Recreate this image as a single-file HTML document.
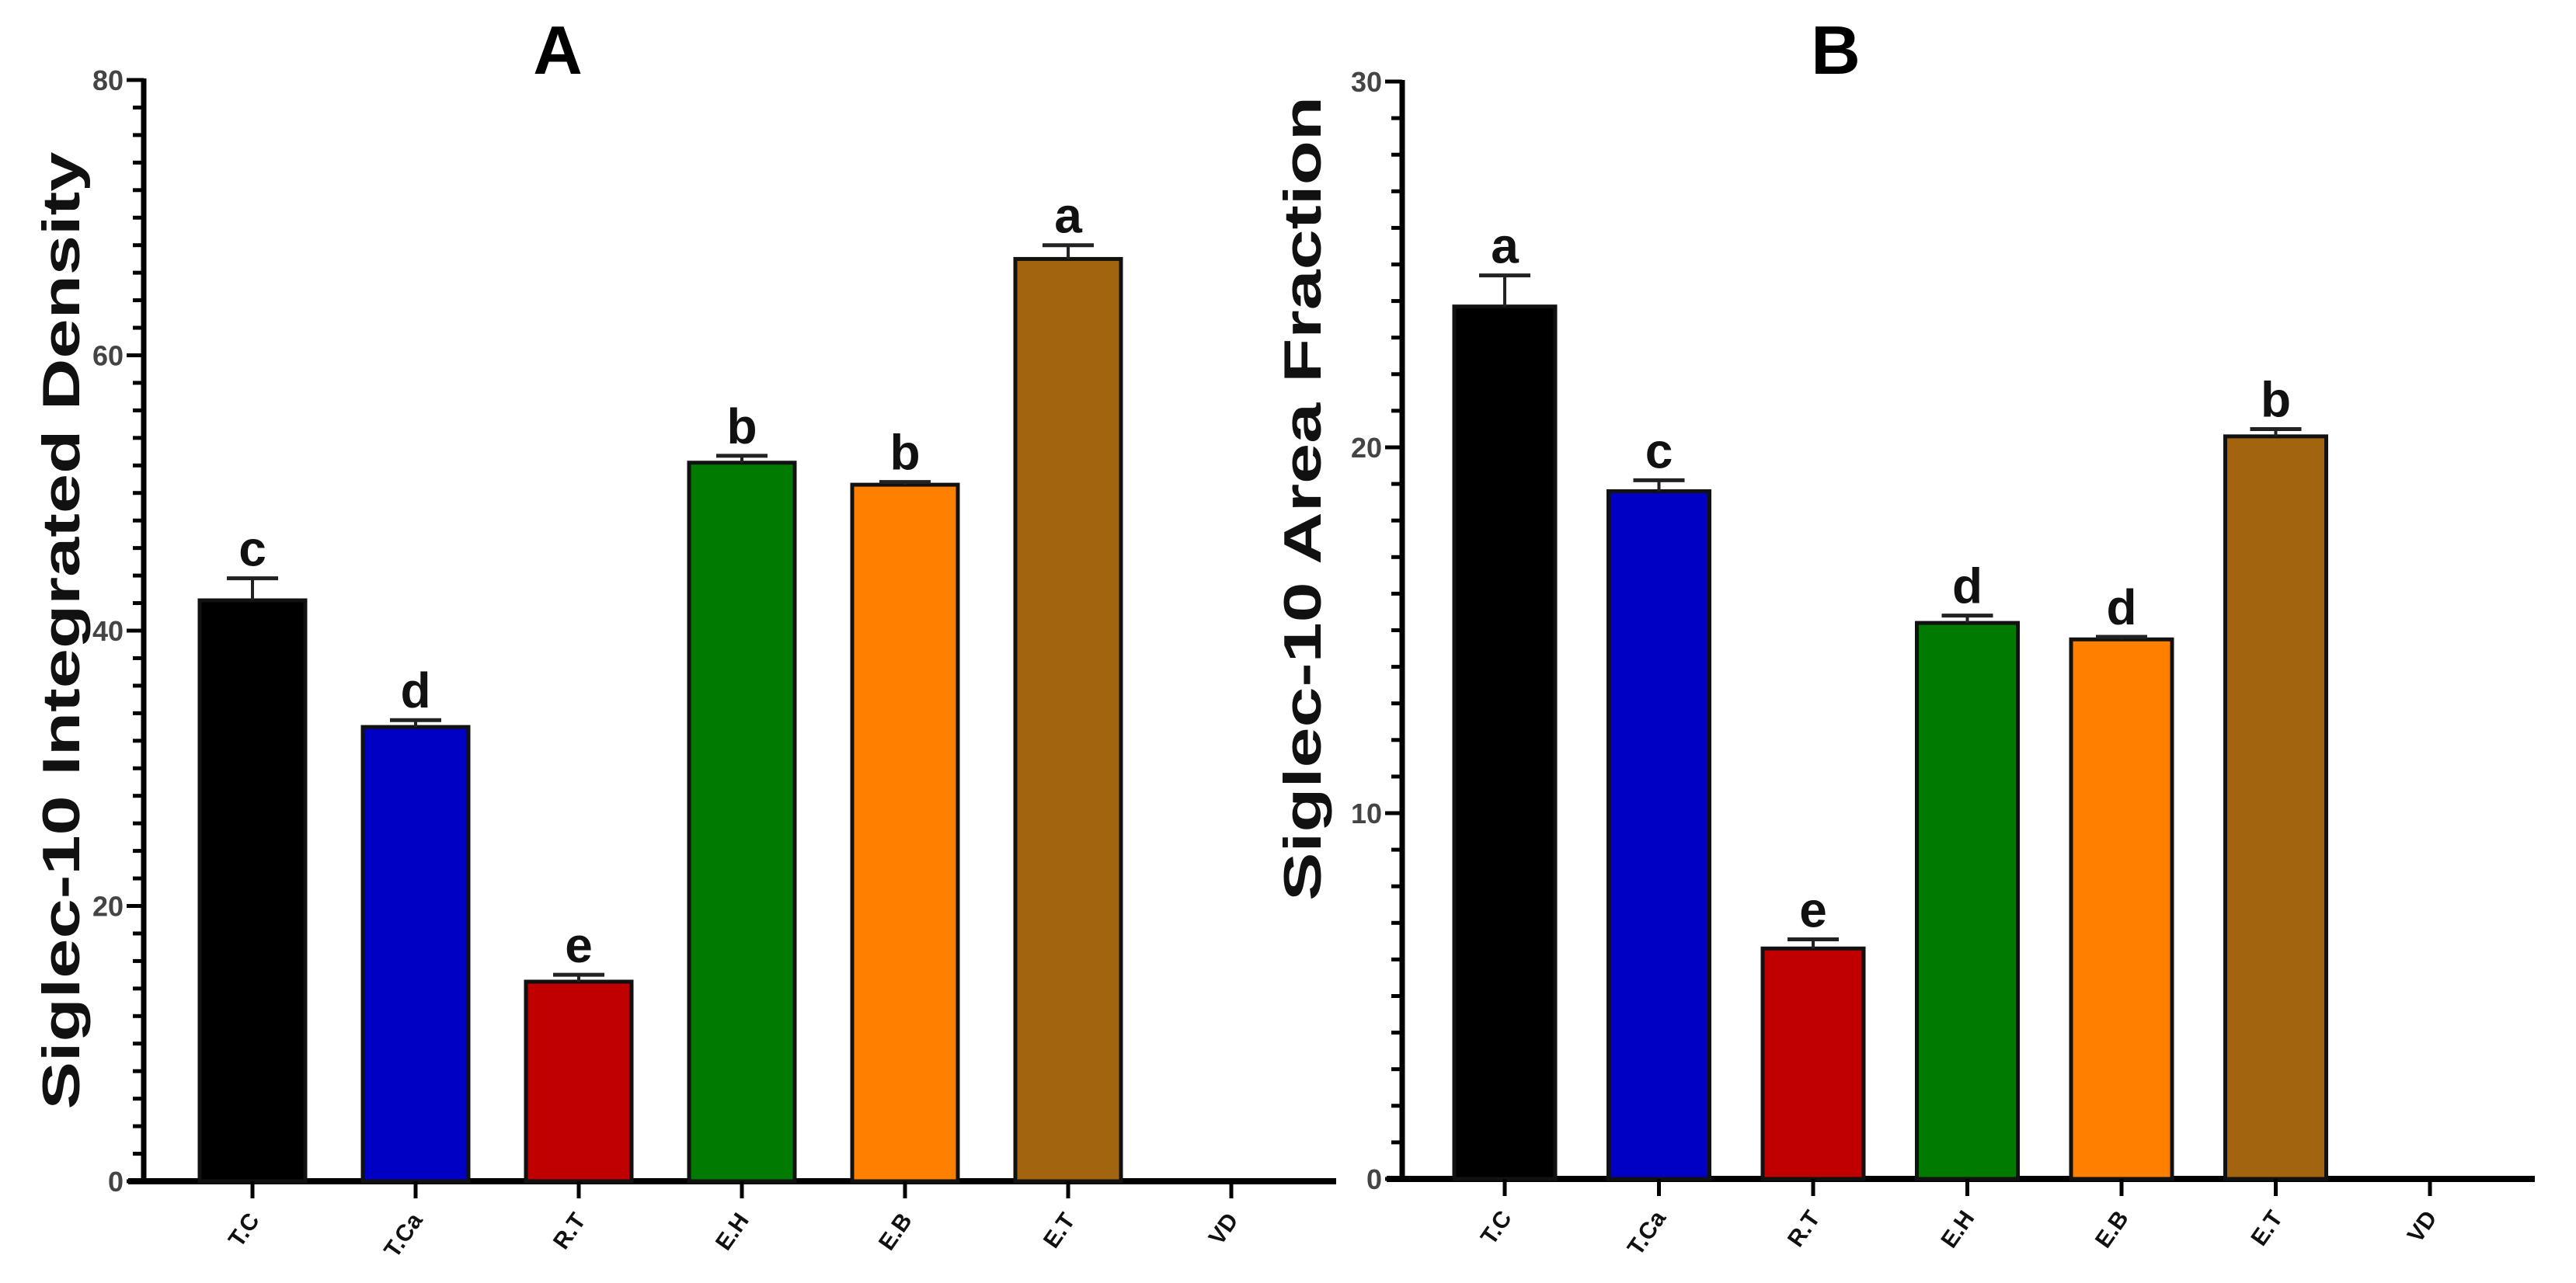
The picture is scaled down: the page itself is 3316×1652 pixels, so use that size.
<!DOCTYPE html>
<html><head><meta charset="utf-8"><style>
html,body{margin:0;padding:0;background:#fff;}
svg{display:block;}
text{font-family:"Liberation Sans",Arial,sans-serif;}
</style></head><body>
<svg id="chart" width="3316" height="1652" viewBox="0 0 3316 1652" xmlns="http://www.w3.org/2000/svg"></svg>
<script>
const categories = ["T.C","T.Ca","R.T","E.H","E.B","E.T","VD"];
const colors = ["#000000","#0000c4","#c00000","#007a00","#ff8000","#a2640f","#ffffff"];
const valuesA = [42.2, 33.0, 14.5, 52.2, 50.6, 67.0, 0];
const errorsA = [1.6, 0.5, 0.5, 0.5, 0.2, 1.0, 0];
const lettersA = ["c","d","e","b","b","a",""];
const ticksA = [0, 20, 40, 60, 80];
const valuesB = [23.85, 18.8, 6.3, 15.2, 14.75, 20.3, 0];
const errorsB = [0.85, 0.3, 0.25, 0.2, 0.07, 0.2, 0];
const lettersB = ["a","c","e","d","d","b",""];
const ticksB = [0, 10, 20, 30];

const NS = "http://www.w3.org/2000/svg";
const svg = document.getElementById('chart');
function mk(tag, attrs, parent, txt){
  const e = document.createElementNS(NS, tag);
  for (const k in attrs) e.setAttribute(k, attrs[k]);
  if (txt !== undefined) e.textContent = txt;
  (parent || svg).appendChild(e);
  return e;
}

function drawPanel(p){
  const g = mk('g', {});
  
  
  const y = v => p.y0 - (v / p.max) * (p.y0 - p.yTop);
  const x = i => p.firstX + i * p.step;
  const ax = mk('line', {x1:p.axisX, y1:p.yTop-2, x2:p.axisX, y2:p.y0+3, stroke:'#000','stroke-width':7}, g);
  
  
  for (let v = 0; v <= p.max + 1e-9; v += p.minor){
    const t = mk('line', {x1:p.axisX-14, y1:y(v), x2:p.axisX, y2:y(v), stroke:'#000','stroke-width':5}, g);
    
    
  }
  p.ticks.forEach(v => {
    const t = mk('line', {x1:p.axisX-22, y1:y(v), x2:p.axisX, y2:y(v), stroke:'#000','stroke-width':5}, g);
    
    
    const l = mk('text', {x:p.axisX-26, y:y(v)+13, 'text-anchor':'end','font-size':36,fill:'#444','font-weight':'bold'}, g, String(v));
    
    
  });
  const xa = mk('line', {x1:p.axisX-20, y1:p.y0, x2:p.xEnd, y2:p.y0, stroke:'#000','stroke-width':8}, g);
  
  
  categories.forEach((c, i) => {
    const cx = x(i);
    if (p.values[i] > 0){
      const top = y(p.values[i]);
      const r = mk('rect', {x:cx-p.bw/2, y:top, width:p.bw, height:p.y0-top, fill:colors[i], stroke:'#111','stroke-width':5}, g);
      
      
      const et = y(p.values[i] + p.errors[i]);
      const ev = mk('line', {x1:cx, y1:top, x2:cx, y2:et, stroke:'#222','stroke-width':4}, g);
      
      
      const ec = mk('line', {x1:cx-33, y1:et, x2:cx+33, y2:et, stroke:'#222','stroke-width':5}, g);
      
      
      const lt = mk('text', {x:cx, y:et-16, 'text-anchor':'middle','font-size':64,'font-weight':'bold',fill:'#111'}, g, p.letters[i]);
      
      
    }
    const tk = mk('line', {x1:cx, y1:p.y0, x2:cx, y2:p.y0+22, stroke:'#000','stroke-width':5}, g);
    
    
    const xl = mk('text', {x:cx+10, y:p.y0+50, 'text-anchor':'end','font-size':30,'font-weight':'bold',fill:'#111',transform:'rotate(-55 '+(cx+10)+' '+(p.y0+50)+')'}, g, c);
    
    
  });
  const yt = mk('text', {x:p.titleX, y:p.titleY, 'text-anchor':'middle','font-size':68,'font-weight':'bold',fill:'#111',textLength:p.titleLen,lengthAdjust:'spacingAndGlyphs',transform:'rotate(-90 '+p.titleX+' '+p.titleY+')'}, g, p.yTitle);
  
  
  const pt = mk('text', {x:p.panelX, y:95, 'text-anchor':'middle','font-size':88,'font-weight':'bold',fill:'#000'}, g, p.panel);
  
  
}

drawPanel({name:'panel-a', axisX:185, yTop:103, y0:1521, max:80, minor:2, ticks:ticksA,
  firstX:325, step:210, bw:136, xEnd:1720, values:valuesA, errors:errorsA, letters:lettersA,
  yTitle:'Siglec-10 Integrated Density', titleX:102, titleY:812, titleLen:1233, panel:'A', panelX:718});
drawPanel({name:'panel-b', axisX:1805, yTop:105, y0:1518, max:30, minor:1, ticks:ticksB,
  firstX:1937, step:198.5, bw:130, xEnd:3263, values:valuesB, errors:errorsB, letters:lettersB,
  yTitle:'Siglec-10 Area Fraction', titleX:1700, titleY:642, titleLen:1036, panel:'B', panelX:2363});
</script>
</body></html>
